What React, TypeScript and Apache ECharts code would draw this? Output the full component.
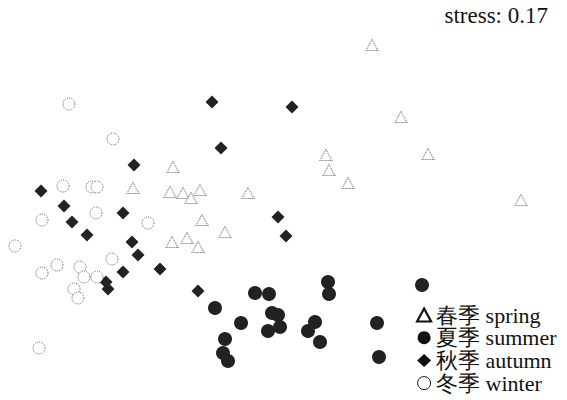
import React, { useEffect, useRef } from "react";
import * as echarts from "echarts";

const seriesNames = ["春季 spring", "夏季 summer", "秋季 autumn", "冬季 winter"];

const spring: [number, number][] = [
  [0.92, 1.55], [1.21, 0.83], [0.46, 0.45], [1.48, 0.46], [0.49, 0.30], [0.68, 0.17],
  [2.41, 0.00], [-1.07, 0.33], [-1.47, 0.12], [-1.10, 0.08], [-0.97, 0.07], [-0.80, 0.10],
  [-0.89, 0.02], [-0.32, 0.07], [-0.78, -0.20], [-0.55, -0.32], [-1.08, -0.42],
  [-0.93, -0.38], [-0.82, -0.47],
];

const summer: [number, number][] = [
  [0.48, -0.82], [0.49, -0.94], [-0.25, -0.93], [-0.11, -0.94], [-0.65, -1.08],
  [-0.08, -1.13], [-0.02, -1.15], [-0.39, -1.23], [0.00, -1.27], [-0.12, -1.31],
  [0.35, -1.22], [0.28, -1.31], [0.40, -1.42], [0.97, -1.23], [0.99, -1.57],
  [-0.55, -1.39], [-0.57, -1.53], [-0.52, -1.61], [1.42, -0.85],
];

const autumn: [number, number][] = [
  [-0.68, 0.98], [0.12, 0.93], [-0.59, 0.52], [-1.46, 0.35], [-2.39, 0.09],
  [-2.16, -0.06], [-1.57, -0.13], [-2.08, -0.22], [-1.93, -0.35], [-1.48, -0.42],
  [-1.42, -0.55], [-1.57, -0.72], [-1.20, -0.69], [-1.74, -0.82], [-1.72, -0.89],
  [-0.82, -0.91], [-0.02, -0.17], [0.06, -0.36],
];

const winter: [number, number][] = [
  [-2.11, 0.96], [-1.67, 0.61], [-2.17, 0.14], [-1.88, 0.13], [-1.83, 0.13],
  [-1.84, -0.13], [-2.38, -0.20], [-1.32, -0.23], [-2.65, -0.46], [-2.23, -0.65],
  [-2.38, -0.73], [-2.00, -0.67], [-1.96, -0.77], [-1.83, -0.77], [-1.68, -0.59],
  [-2.06, -0.89], [-2.02, -0.98], [-2.41, -1.48],
];

const stressLabel = "stress: 0.17";

const FONT = "'Liberation Serif', 'Times New Roman', serif";

export default function App() {
  const ref = useRef<HTMLDivElement>(null);
  useEffect(() => {
    if (!ref.current) return;
    const chart = echarts.init(ref.current, undefined, { renderer: "svg" });
    const hollow = {
      color: "#ffffff",
      borderColor: "#666666",
      borderWidth: 1,
      borderType: "dotted" as const,
      opacity: 1,
    };
    chart.setOption({
      animation: false,
      backgroundColor: "#ffffff",
      grid: { left: 0, top: 0, width: 567, height: 400 },
      xAxis: { type: "value", min: -2.8, max: 2.87, show: false },
      yAxis: { type: "value", min: -2.0, max: 2.0, show: false },
      legend: {
        orient: "vertical",
        left: 416,
        top: 304,
        width: 151,
        height: 96,
        padding: 0,
        itemWidth: 14,
        itemHeight: 13,
        itemGap: 0.7,
        textStyle: { fontFamily: FONT, fontSize: 22, lineHeight: 22, color: "#111" },
        data: [
          {
            name: seriesNames[0],
            icon: "triangle",
            itemStyle: { color: "#ffffff", borderColor: "#111", borderWidth: 2.2, borderType: "solid", opacity: 1 },
          },
          { name: seriesNames[1], icon: "circle", itemStyle: { color: "#111", borderWidth: 0, opacity: 1 } },
          { name: seriesNames[2], icon: "diamond", itemStyle: { color: "#111", borderWidth: 0, opacity: 1 } },
          {
            name: seriesNames[3],
            icon: "circle",
            itemStyle: { color: "#ffffff", borderColor: "#111", borderWidth: 1, borderType: "solid", opacity: 1 },
          },
        ],
      },
      series: [
        {
          name: seriesNames[0],
          type: "scatter",
          symbol: "triangle",
          symbolSize: [12, 11],
          itemStyle: hollow,
          data: spring,
        },
        {
          name: seriesNames[1],
          type: "scatter",
          symbol: "circle",
          symbolSize: 14,
          itemStyle: { color: "#222222", opacity: 1 },
          data: summer,
        },
        {
          name: seriesNames[2],
          type: "scatter",
          symbol: "diamond",
          symbolSize: 13,
          itemStyle: { color: "#222222", opacity: 1 },
          data: autumn,
        },
        {
          name: seriesNames[3],
          type: "scatter",
          symbol: "circle",
          symbolSize: 12,
          itemStyle: hollow,
          data: winter,
        },
      ],
    });
    return () => chart.dispose();
  }, []);
  return (
    <div style={{ position: "fixed", left: 0, top: 0, width: 567, height: 400, background: "#fff", fontFamily: FONT }}>
      <div ref={ref} style={{ position: "absolute", left: 0, top: 0, width: 567, height: 400 }} />
      <div
        style={{
          position: "absolute",
          right: 19,
          top: 4,
          fontFamily: FONT,
          fontSize: 23,
          lineHeight: "23px",
          color: "#111",
          whiteSpace: "nowrap",
        }}
      >
        {stressLabel}
      </div>
    </div>
  );
}
